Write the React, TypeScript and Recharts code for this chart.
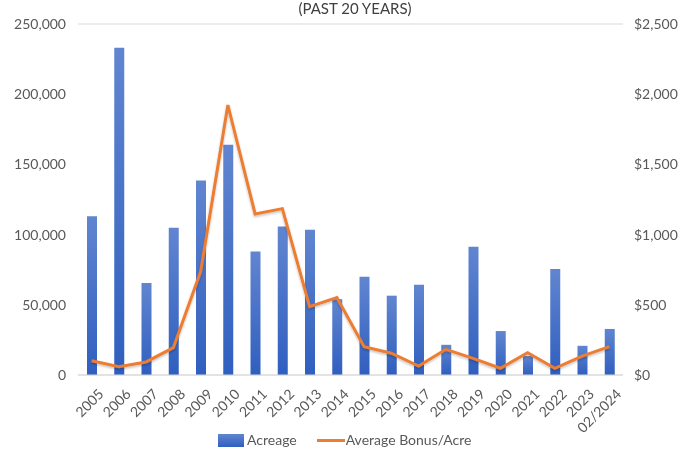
import React from 'react';
import { ComposedChart, Bar, Line, XAxis, YAxis, CartesianGrid } from 'recharts';

const years = [
  '2005', '2006', '2007', '2008', '2009', '2010', '2011', '2012', '2013', '2014',
  '2015', '2016', '2017', '2018', '2019', '2020', '2021', '2022', '2023', '02/2024',
];
const acreage = [
  113000, 233000, 65500, 104800, 138500, 164000, 88000, 105800, 103500, 54000,
  70000, 56500, 64300, 21500, 91300, 31300, 13500, 75500, 20800, 32800,
];
const bonusPerAcre = [
  102, 59, 93, 195, 736, 1923, 1147, 1185, 487, 551,
  202, 155, 64, 183, 119, 48, 159, 48, 135, 202,
];
const leftTicks = [0, 50000, 100000, 150000, 200000, 250000];
const rightTicks = [0, 500, 1000, 1500, 2000, 2500];

const data = years.map((year, i) => ({
  year,
  acreage: acreage[i],
  bonus: bonusPerAcre[i],
}));

const FONT = 'Lato, "Open Sans", sans-serif';
const TEXT = '#595959';
const ORANGE = '#ED7D31';

function XTick({ x, y, payload }: any) {
  const tx = x + 5;
  const ty = y + 4;
  return (
    <text
      x={tx}
      y={ty}
      textAnchor="end"
      dominantBaseline="hanging"
      fontSize={14}
      fontFamily={FONT}
      fill={TEXT}
      transform={`rotate(-45, ${tx}, ${ty})`}
    >
      {payload.value}
    </text>
  );
}

export default function App() {
  return (
    <div style={{ position: 'fixed', left: 0, top: 0, width: 686, height: 452, background: '#fff' }}>
      <div
        style={{
          position: 'absolute',
          top: 0,
          left: 0,
          width: 710,
          textAlign: 'center',
          fontFamily: FONT,
          fontSize: 15,
          lineHeight: '17px',
          color: '#404040',
        }}
      >
        (PAST 20 YEARS)
      </div>
      <ComposedChart
        width={686}
        height={452}
        data={data}
        margin={{ top: 24, right: 0, bottom: 27, left: 0 }}
        barCategoryGap={0}
      >
        <defs>
          <linearGradient id="barFill" x1="0" y1="0" x2="0" y2="1">
            <stop offset="0%" stopColor="#6185d0" />
            <stop offset="100%" stopColor="#2f5fbf" />
          </linearGradient>
          <filter id="lineShadow" x="-5%" y="-5%" width="110%" height="120%">
            <feDropShadow dx="0" dy="1.5" stdDeviation="1.2" floodColor="#000" floodOpacity="0.25" />
          </filter>
        </defs>
        <CartesianGrid vertical={false} stroke="#d9d9d9" />
        <XAxis
          dataKey="year"
          height={50}
          interval={0}
          tick={<XTick />}
          tickLine={false}
          axisLine={{ stroke: '#d9d9d9' }}
        />
        <YAxis
          yAxisId="left"
          width={78}
          domain={[0, 250000]}
          ticks={leftTicks}
          tickFormatter={(v: number) => v.toLocaleString('en-US')}
          tick={{ fontSize: 14, fill: TEXT, fontFamily: FONT }}
          tickLine={false}
          axisLine={false}
          tickMargin={6}
        />
        <YAxis
          yAxisId="right"
          orientation="right"
          width={63}
          domain={[0, 2500]}
          ticks={rightTicks}
          tickFormatter={(v: number) => '$' + v.toLocaleString('en-US')}
          tick={{ fontSize: 14, fill: TEXT, fontFamily: FONT, textAnchor: 'start' }}
          tickLine={false}
          axisLine={false}
          tickMargin={5}
        />
        <Bar
          yAxisId="left"
          dataKey="acreage"
          name="Acreage"
          fill="url(#barFill)"
          barSize={10}
          isAnimationActive={false}
        />
        <Line
          yAxisId="right"
          type="linear"
          dataKey="bonus"
          name="Average Bonus/Acre"
          stroke={ORANGE}
          strokeWidth={3}
          dot={false}
          activeDot={false}
          style={{ filter: 'url(#lineShadow)' }}
          isAnimationActive={false}
        />
      </ComposedChart>
      {/* legend */}
      <div
        style={{
          position: 'absolute',
          top: 431,
          left: 218,
          display: 'flex',
          alignItems: 'center',
          fontFamily: FONT,
          fontSize: 14,
          color: TEXT,
          lineHeight: '18px',
        }}
      >
        <span
          style={{
            display: 'inline-block',
            width: 26,
            height: 13,
            background: 'linear-gradient(#6185d0, #2f5fbf)',
            marginRight: 3,
          }}
        />
        <span>Acreage</span>
        <span
          style={{
            display: 'inline-block',
            width: 28,
            height: 3,
            background: ORANGE,
            marginLeft: 20,
            marginRight: 1,
          }}
        />
        <span>Average Bonus/Acre</span>
      </div>
    </div>
  );
}
